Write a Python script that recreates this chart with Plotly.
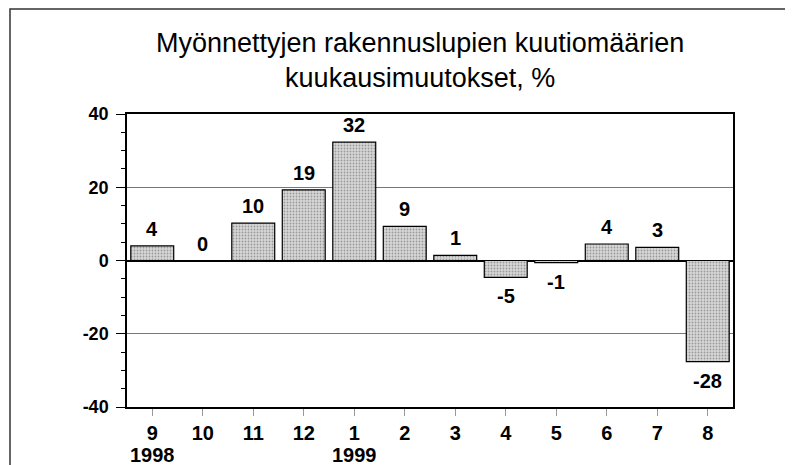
import plotly.graph_objects as go

months = ["9", "10", "11", "12", "1", "2", "3", "4", "5", "6", "7", "8"]
years = ["1998", "", "", "", "1999", "", "", "", "", "", "", ""]
values = [4.0, 0.0, 10.2, 19.3, 32.3, 9.3, 1.4, -4.6, -0.6, 4.5, 3.6, -27.6]
labels = ["4", "0", "10", "19", "32", "9", "1", "-5", "-1", "4", "3", "-28"]
yticks = [-40, -20, 0, 20, 40]
ytick_labels = ["-40", "-20", "0", "20", "40"]
title_text = "Myönnettyjen rakennuslupien kuutiomäärien<br>kuukausimuutokset, %"

FONT = "Liberation Sans, Arial, sans-serif"

# page body has an 8px margin: plot area sits at x 127..733, y 114..407 on screen
L, T, PW, PH = 119, 106, 606, 293
W, H = 793, 465

pos = list(range(len(months)))

fig = go.Figure()
fig.add_trace(go.Bar(
    x=pos, y=values,
    marker=dict(
        color="#bdbdbd",
        line=dict(color="black", width=1.2),
        pattern=dict(shape=".", fgcolor="#5a5a5a", bgcolor="#d8d8d8", size=3, solidity=0.3),
    ),
    hoverinfo="skip",
))

annotations = []
for p, v, lab in zip(pos, values, labels):
    annotations.append(dict(
        x=p, y=v, text=lab, showarrow=False, xref="x", yref="y",
        yanchor="bottom" if v >= 0 else "top",
        yshift=4 if v >= 0 else -6,
        font=dict(family=FONT, size=20, color="black", weight="bold"),
    ))
for p, yr in zip(pos, years):
    if yr:
        annotations.append(dict(
            x=p, y=1 - (447 - T) / PH, xref="x", yref="paper",
            xanchor="center", yanchor="middle", text=yr, showarrow=False,
            height=18,
            font=dict(family=FONT, size=20, color="black", weight="bold"),
        ))
annotations.append(dict(
    x=(412 - L) / PW, y=1 + (T - 52.5) / PH, xref="paper", yref="paper",
    xanchor="center", yanchor="middle",
    text=title_text, showarrow=False,
    font=dict(family=FONT, size=27, color="black"),
))

fig.update_layout(
    width=W, height=H,
    margin=dict(l=L, r=W - L - PW, t=T, b=H - T - PH, autoexpand=False),
    paper_bgcolor="white", plot_bgcolor="white",
    showlegend=False,
    bargap=0.15,
    font=dict(family=FONT, size=18, color="black"),
    annotations=annotations,
    shapes=[dict(type="rect", xref="paper", yref="paper",
                 x0=(2 - L) / PW, x1=1.3, y0=-0.4, y1=1 + (T - 1) / PH,
                 line=dict(color="#333", width=1.5), layer="below")],
)

fig.update_xaxes(
    range=[-0.5, len(months) - 0.5],
    tickvals=pos,
    ticktext=months,
    ticks="outside", ticklen=7, tickcolor="#999", tickwidth=1,
    ticklabelstandoff=0,
    showline=True, linecolor="black", linewidth=1.5, mirror=True,
    showgrid=False, zeroline=False,
    tickfont=dict(family=FONT, size=20, color="black", weight="bold"),
)
fig.update_yaxes(
    range=[-40, 40],
    tickvals=yticks,
    ticktext=ytick_labels,
    ticks="outside", ticklen=9, tickcolor="black", tickwidth=1,
    ticklabelstandoff=4,
    showline=True, linecolor="black", linewidth=1.5, mirror=True,
    showgrid=True, gridcolor="#777", gridwidth=1,
    zeroline=True, zerolinecolor="black", zerolinewidth=1.5,
    minor=dict(dtick=5, ticks="outside", ticklen=4, tickcolor="black", showgrid=False),
    tickfont=dict(family=FONT, size=18, color="black", weight="bold"),
)

fig.write_html("out.html")
